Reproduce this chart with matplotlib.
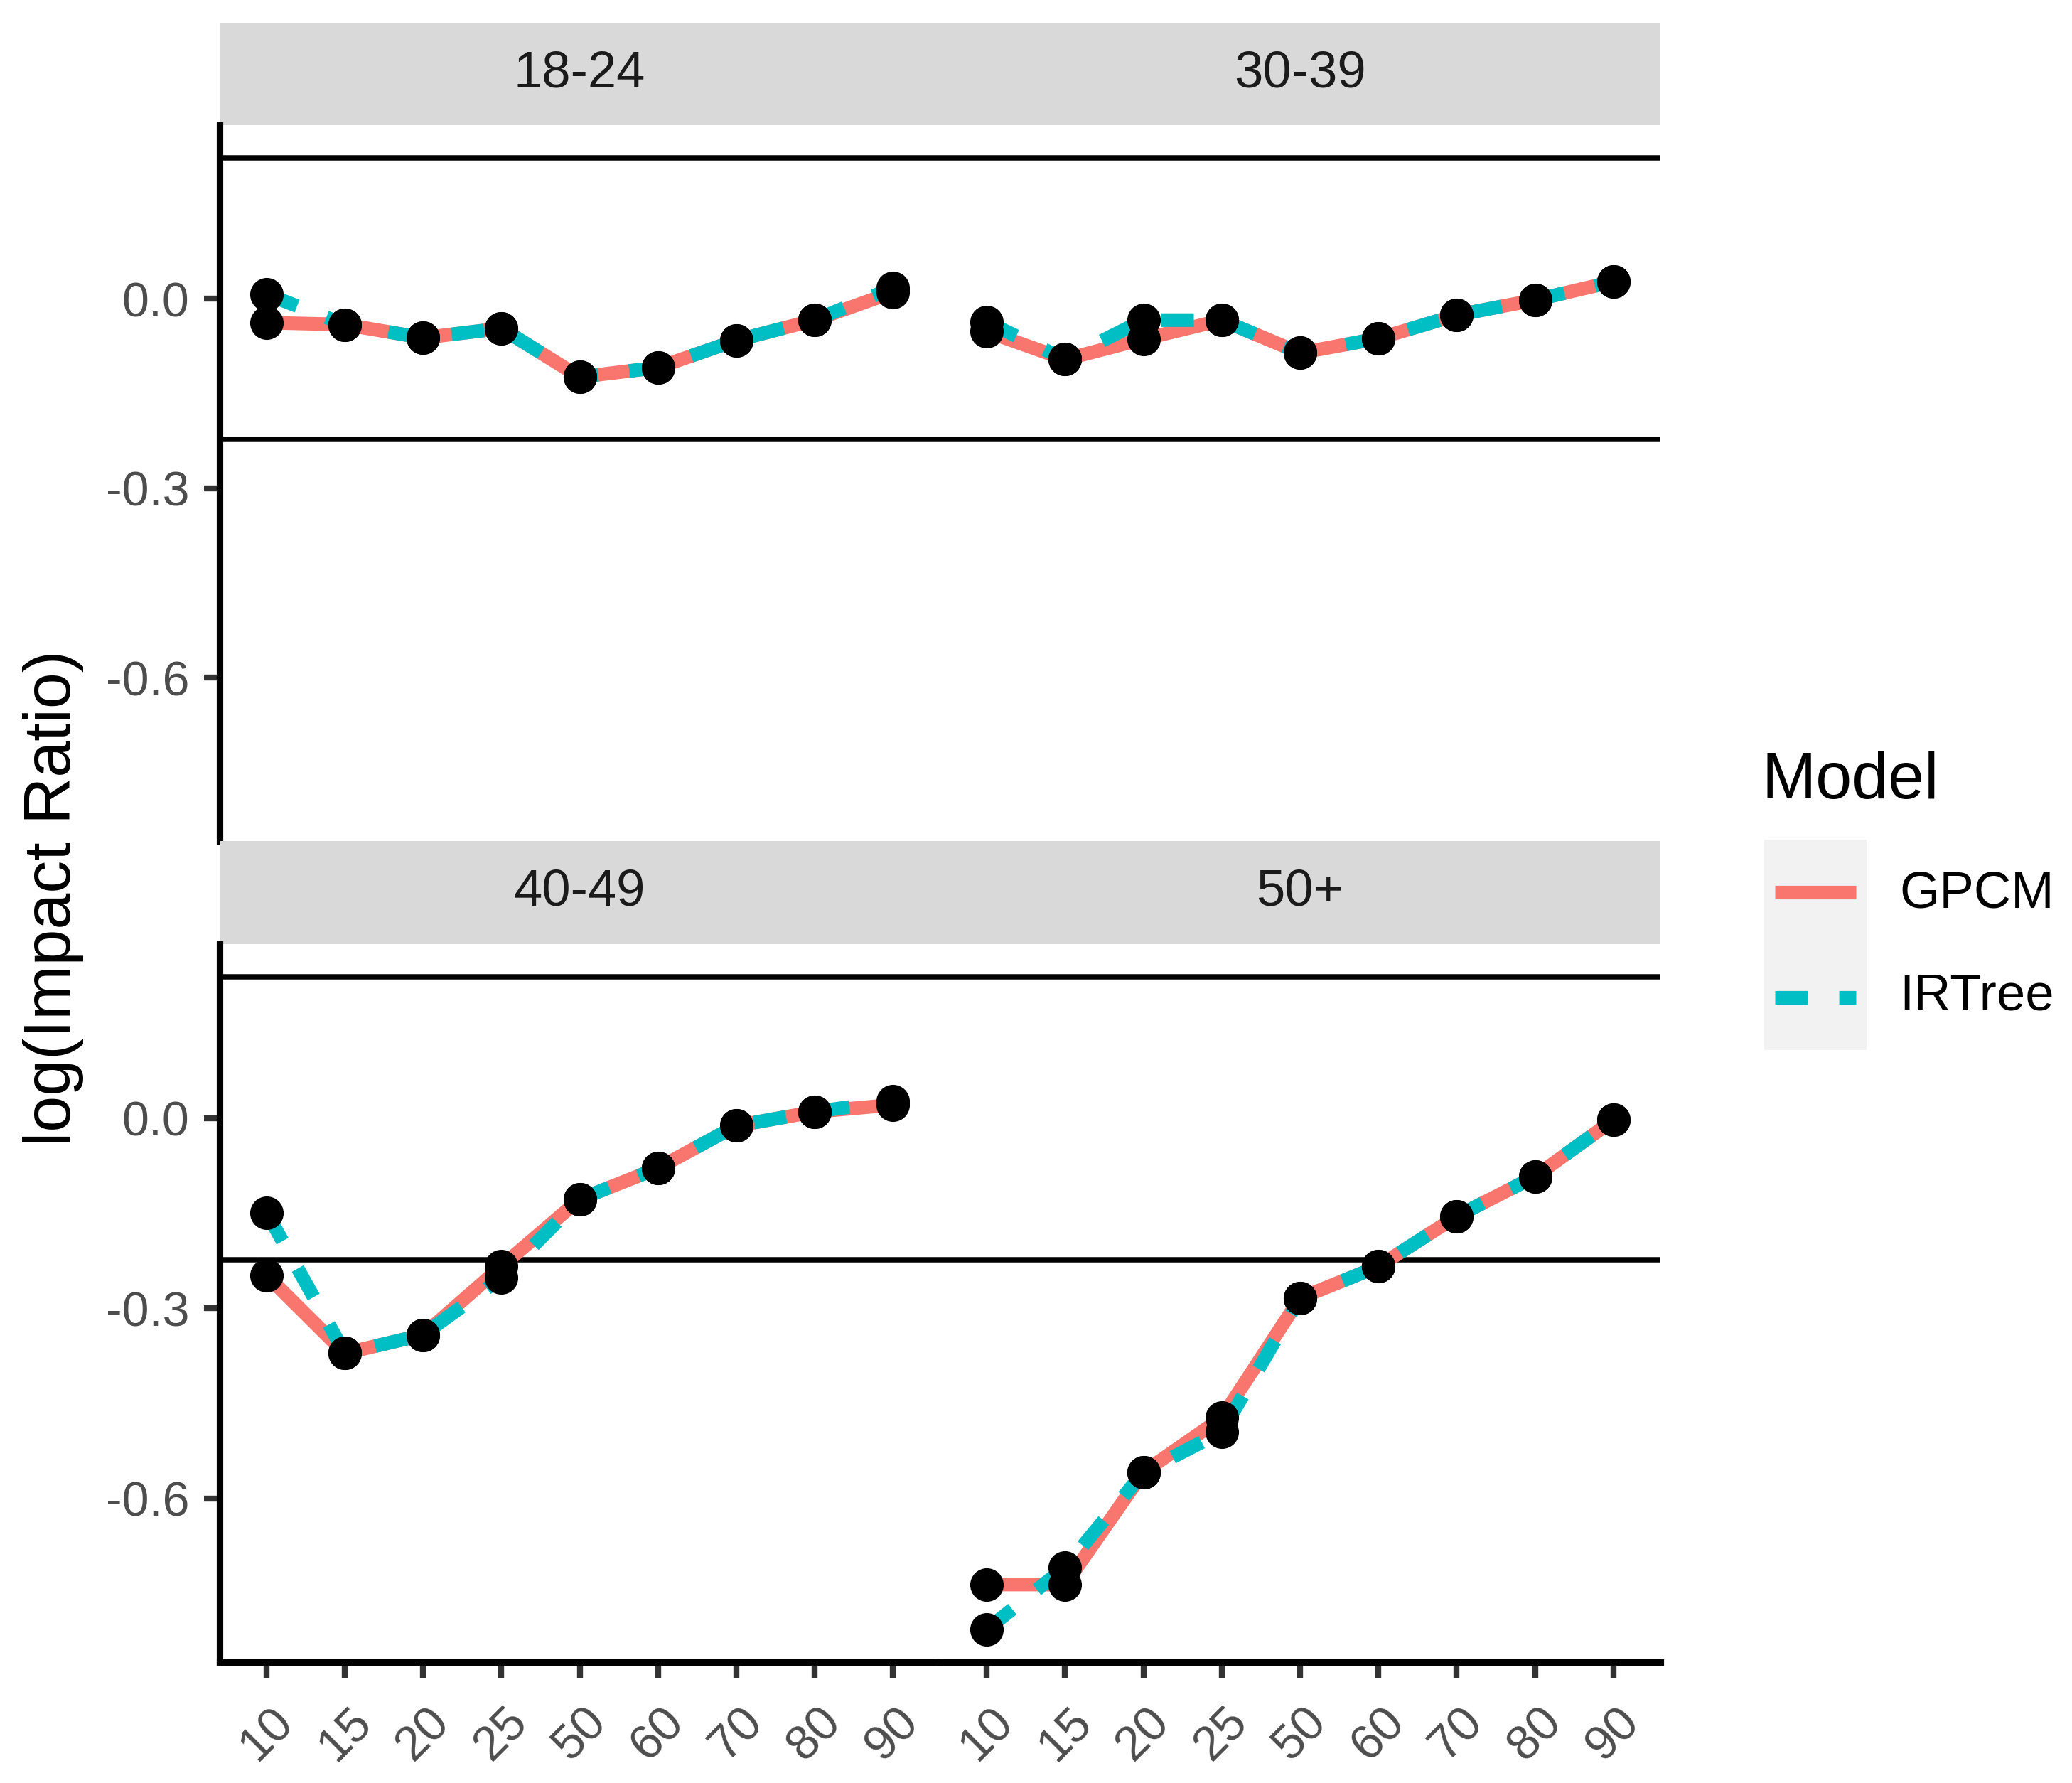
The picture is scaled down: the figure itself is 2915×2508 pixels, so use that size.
import matplotlib
matplotlib.use("Agg")
import matplotlib.pyplot as plt
import numpy as np

plt.rcParams['font.family'] = ['Liberation Sans', 'DejaVu Sans']
plt.rcParams['axes.unicode_minus'] = False

# data: log(impact ratio) by cutoff, one pair of series per age group
age_groups = ["18-24", "30-39", "40-49", "50+"]
cutoffs = ["10", "15", "20", "25", "50", "60", "70", "80", "90"]
models = ["GPCM", "IRTree"]

gpcm_18_24 = [-0.038, -0.041, -0.062, -0.047, -0.124, -0.109, -0.066, -0.034, 0.010]
irtree_18_24 = [0.007, -0.041, -0.062, -0.047, -0.124, -0.109, -0.066, -0.034, 0.017]
gpcm_30_39 = [-0.052, -0.096, -0.064, -0.034, -0.086, -0.063, -0.026, -0.002, 0.027]
irtree_30_39 = [-0.037, -0.096, -0.034, -0.034, -0.086, -0.063, -0.026, -0.002, 0.027]
gpcm_40_49 = [-0.248, -0.371, -0.342, -0.234, -0.128, -0.079, -0.012, 0.010, 0.021]
irtree_40_49 = [-0.149, -0.371, -0.342, -0.252, -0.128, -0.079, -0.012, 0.010, 0.027]
gpcm_50 = [-0.736, -0.736, -0.559, -0.473, -0.284, -0.234, -0.155, -0.092, -0.003]
irtree_50 = [-0.807, -0.709, -0.559, -0.495, -0.284, -0.234, -0.155, -0.092, -0.003]

series = {
    "18-24": (gpcm_18_24, irtree_18_24),
    "30-39": (gpcm_30_39, irtree_30_39),
    "40-49": (gpcm_40_49, irtree_40_49),
    "50+": (gpcm_50, irtree_50),
}

# four-fifths rule bounds
bound = np.log(1.25)

colors = {"GPCM": "#F8766D", "IRTree": "#00BFC4"}
W, H = 2915, 2508


def frac(x0, y0, x1, y1):
    # pixel box (top-left origin) -> figure fraction rect
    return [x0 / W, 1 - y1 / H, (x1 - x0) / W, (y1 - y0) / H]


fig = plt.figure(figsize=(W / 300, H / 300), dpi=300)

all_vals = np.concatenate([np.r_[g, t] for g, t in series.values()] + [[bound, -bound]])
lo, hi = all_vals.min(), all_vals.max()
pad = 0.05 * (hi - lo)
ylim = (lo - pad, hi + pad)

cols = [(309, 1322), (1322, 2336)]
rows = [((32, 176), (176, 1183)), ((1183, 1328), (1328, 2338))]

x = np.arange(len(cutoffs))
lw_line = 4.6
dash = (2.4, 2.3)
pt_style = dict(marker="o", ls="none", color="black", ms=11.3, mew=0, zorder=4)

for i, grp in enumerate(age_groups):
    r, c = divmod(i, 2)
    (sy0, sy1), (py0, py1) = rows[r]
    cx0, cx1 = cols[c]

    # strip
    sax = fig.add_axes(frac(cx0, sy0, cx1, sy1))
    sax.set_facecolor("#D9D9D9")
    for s in sax.spines.values():
        s.set_visible(False)
    sax.set_xticks([])
    sax.set_yticks([])
    sax.text(0.5, 0.5, grp, ha="center", va="center", fontsize=17.4,
             color="#1A1A1A", transform=sax.transAxes)

    ax = fig.add_axes(frac(cx0, py0, cx1, py1))
    ax.set_facecolor("white")
    ax.axhline(bound, color="black", lw=1.8, zorder=1)
    ax.axhline(-bound, color="black", lw=1.8, zorder=1)

    gpcm, irtree = series[grp]
    ax.plot(x, gpcm, color=colors["GPCM"], lw=lw_line, solid_capstyle="butt", zorder=2)
    ax.plot(x, irtree, color=colors["IRTree"], lw=lw_line, dashes=dash, zorder=3)
    ax.plot(x, gpcm, **pt_style)
    ax.plot(x, irtree, **pt_style)

    ax.set_xlim(-0.6, len(cutoffs) - 1 + 0.6)
    ax.set_ylim(*ylim)

    for s in ["top", "right"]:
        ax.spines[s].set_visible(False)
    ax.spines["left"].set_visible(c == 0)
    ax.spines["bottom"].set_visible(r == 1)
    ax.spines["left"].set_linewidth(2.2)
    ax.spines["bottom"].set_linewidth(2.2)

    if c == 0:
        ax.set_yticks([-0.6, -0.3, 0.0])
        ax.set_yticklabels(["-0.6", "-0.3", "0.0"])
        ax.tick_params(axis="y", length=5.3, width=2.0, color="#333333",
                       labelsize=16.4, labelcolor="#4D4D4D", pad=5)
    else:
        ax.set_yticks([])

    if r == 1:
        ax.set_xticks(x)
        ax.set_xticklabels(cutoffs, rotation=45, ha="center", va="top")
        ax.tick_params(axis="x", length=5.3, width=2.0, color="#333333",
                       labelsize=16.4, labelcolor="#4D4D4D", pad=7)
    else:
        ax.set_xticks([])

fig.text(75 / W, 1 - 1263 / H, "log(Impact Ratio)", rotation=90,
         ha="center", va="center", fontsize=22)

# legend
fig.text(2478 / W, 1 - 1099 / H, "Model", ha="left", va="center", fontsize=22)
lax = fig.add_axes(frac(2482, 1181, 2626, 1477))
lax.set_facecolor("#F2F2F2")
for s in lax.spines.values():
    s.set_visible(False)
lax.set_xticks([])
lax.set_yticks([])
lax.set_xlim(0, 1)
lax.set_ylim(0, 2)
lax.plot([0.104, 0.896], [1.5, 1.5], color=colors["GPCM"], lw=lw_line, solid_capstyle="butt")
lax.plot([0.104, 0.896], [0.5, 0.5], color=colors["IRTree"], lw=lw_line, dashes=dash)
for m, yc in zip(models, [1258, 1402]):
    fig.text(2672 / W, 1 - yc / H, m, ha="left", va="center", fontsize=17.4)

fig.savefig("out.png", dpi=300, facecolor="white")
